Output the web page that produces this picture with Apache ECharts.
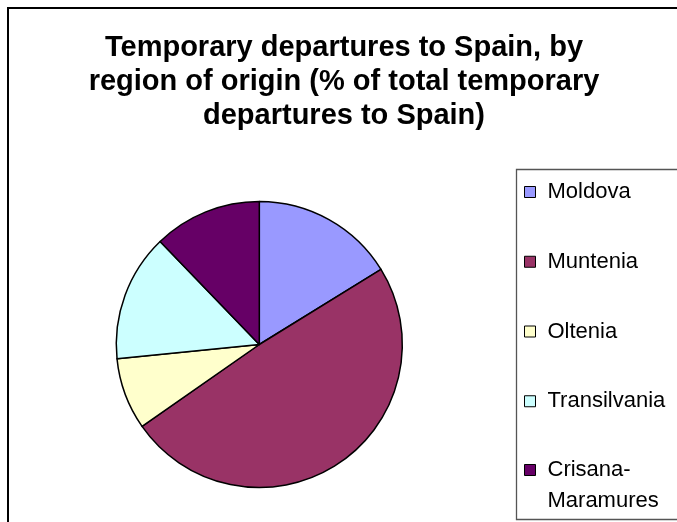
<!DOCTYPE html>
<html>
<head>
<meta charset="utf-8">
<script src="https://cdn.jsdelivr.net/npm/echarts@6/dist/echarts.min.js"></script>
<style>
  html, body { margin: 0; padding: 0; background: #fff; }
  #chart { width: 677px; height: 522px; }
</style>
</head>
<body>
<div id="chart"></div>
<script>
// regions and their share (% of total temporary departures to Spain)
var regions = ["Moldova", "Muntenia", "Oltenia", "Transilvania", "Crisana-Maramures"];
var shares = [16.2, 49.1, 8.1, 14.4, 12.2];
var colors = ["#9999FF", "#993366", "#FFFFCC", "#CCFFFF", "#660066"];

var titleText = "Temporary departures to Spain, by\nregion of origin (% of total temporary\ndepartures to Spain)";
var font = "'Liberation Sans', Arial, sans-serif";

var chart = echarts.init(document.getElementById("chart"));

var pieData = regions.map(function (name, i) {
  return { name: name, value: shares[i], itemStyle: { color: colors[i] } };
});

var legendBase = {
  orient: "vertical",
  left: 524,
  padding: 0,
  icon: "rect",
  itemWidth: 11,
  itemHeight: 11,
  itemStyle: { borderColor: "#000", borderWidth: 1 },
  selectedMode: false
};

chart.setOption({
  backgroundColor: "#fff",
  animation: false,
  title: {
    text: titleText,
    left: 344,
    top: 31,
    padding: 0,
    textAlign: "center",
    textStyle: {
      fontFamily: font,
      fontSize: 29,
      fontWeight: "bold",
      color: "#000",
      lineHeight: 34
    }
  },
  graphic: [
    {
      // outer chart frame
      type: "rect",
      shape: { x: 8, y: 8, width: 720, height: 600 },
      style: { fill: "none", stroke: "#000", lineWidth: 2 },
      silent: true
    },
    {
      // legend box
      type: "rect",
      shape: { x: 516.5, y: 169.5, width: 200, height: 350 },
      style: { fill: "none", stroke: "#555", lineWidth: 1.3 },
      silent: true
    }
  ],
  legend: [
    Object.assign({}, legendBase, {
      top: 180,
      itemGap: 45.75,
      data: regions.slice(0, 4),
      textStyle: {
        fontFamily: font,
        fontSize: 22,
        color: "#000",
        lineHeight: 24,
        padding: [0, 0, 0, 7]
      }
    }),
    Object.assign({}, legendBase, {
      top: 423.5,
      data: regions.slice(4),
      // blank first line keeps "Crisana-" level with the marker
      formatter: function (name) {
        return " \n" + name.replace("-", "-\n");
      },
      textStyle: {
        fontFamily: font,
        fontSize: 22,
        color: "#000",
        lineHeight: 31,
        padding: [0, 0, 0, 7]
      }
    })
  ],
  series: [
    {
      type: "pie",
      center: [259.3, 344.5],
      radius: 143,
      startAngle: 90,
      clockwise: true,
      label: { show: false },
      labelLine: { show: false },
      itemStyle: { borderColor: "#000", borderWidth: 1.5 },
      emphasis: { scale: false },
      data: pieData
    }
  ]
});
</script>
</body>
</html>
